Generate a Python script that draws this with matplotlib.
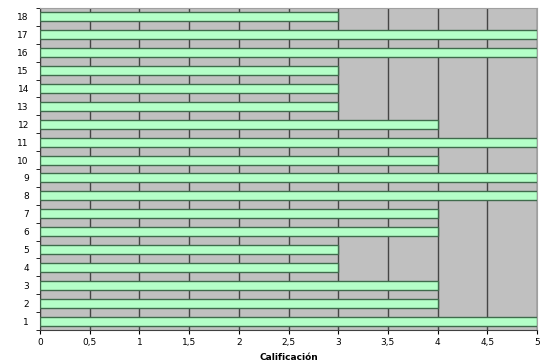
import numpy as np
import matplotlib
matplotlib.use('Agg')
import matplotlib.pyplot as plt
from matplotlib.ticker import FuncFormatter

preguntas = list(range(1, 19))
calificacion = [5, 4, 4, 3, 3, 4, 4, 5, 5, 4, 5, 4, 3, 3, 3, 5, 5, 3]
x_ticks = [0, 0.5, 1, 1.5, 2, 2.5, 3, 3.5, 4, 4.5, 5]

plt.rcParams['font.family'] = ['DejaVu Sans']

fig = plt.figure(figsize=(5.49, 3.63), dpi=100)
ax = fig.add_axes([40 / 549, 33 / 363, 497 / 549, 322 / 363])
ax.set_facecolor('#c0c0c0')

ax.barh(preguntas, calificacion, height=0.5, color='#b4ffc8',
        edgecolor='#3f6b4c', linewidth=1, zorder=3)

ax.set_xlim(0, 5)
ax.set_ylim(0.5, 18.5)
ax.set_xticks(x_ticks)
ax.xaxis.set_major_formatter(FuncFormatter(lambda v, p: ('%g' % v).replace('.', ',')))
ax.set_yticks(preguntas)
ax.set_yticks(np.arange(0.5, 19, 1), minor=True)
ax.tick_params(axis='y', which='major', length=0, labelsize=6.5, pad=8)
ax.tick_params(axis='y', which='minor', length=3, color='black')
ax.tick_params(axis='x', length=3, labelsize=6.5, pad=3)

ax.grid(axis='x', color='#454545', linewidth=1, zorder=1)
for s in ['top', 'right']:
    ax.spines[s].set_color('#a0a0a0')
ax.spines['left'].set_color('#404040')
ax.spines['bottom'].set_color('#404040')

ax.set_xlabel('Calificación', fontsize=6.5, fontweight='bold', labelpad=4)

fig.savefig('out.png', dpi=100)
